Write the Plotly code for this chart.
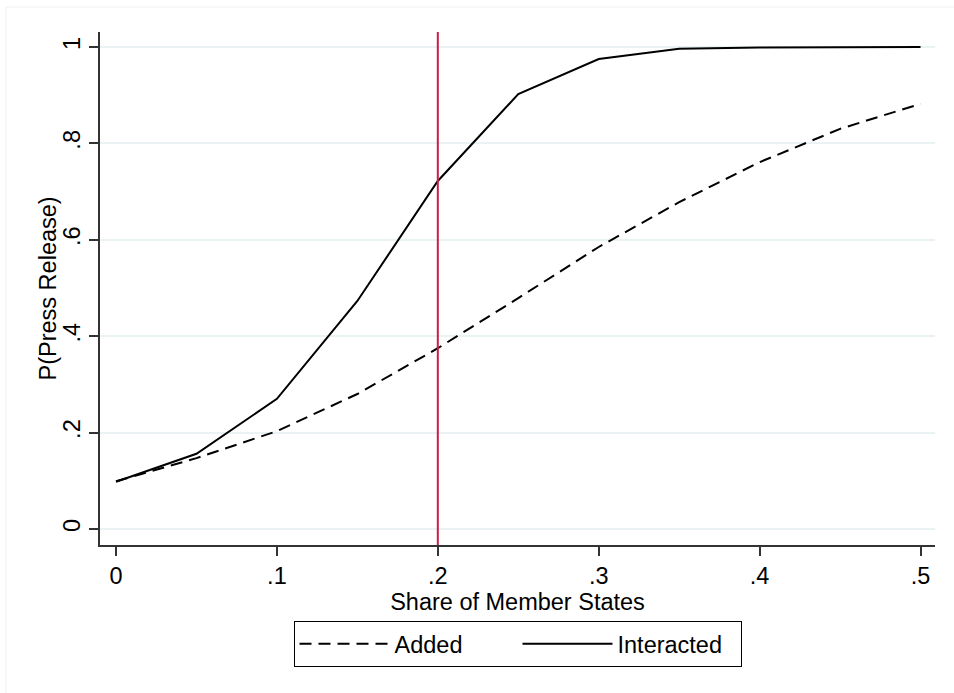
import plotly.graph_objects as go

share = [0, 0.05, 0.10, 0.15, 0.20, 0.25, 0.30, 0.35, 0.40, 0.45, 0.50]
added = [0.099, 0.147, 0.203, 0.280, 0.375, 0.479, 0.585, 0.678, 0.761, 0.830, 0.882]
interacted = [0.098, 0.156, 0.270, 0.473, 0.722, 0.902, 0.975, 0.996, 0.999, 1.0, 1.0]
cutoff = 0.2
x_ticks = [0, 0.1, 0.2, 0.3, 0.4, 0.5]
x_labels = ["0", ".1", ".2", ".3", ".4", ".5"]
y_ticks = [0, 0.2, 0.4, 0.6, 0.8, 1.0]
y_labels = ["0", ".2", ".4", ".6", ".8", "1"]

FONT = "Liberation Sans, Arial, sans-serif"
FS = 23.5

fig = go.Figure()
fig.add_trace(go.Scatter(x=share, y=added, mode="lines", name="Added",
                         line=dict(color="black", width=2, dash="12px,7px")))
fig.add_trace(go.Scatter(x=share, y=interacted, mode="lines", name="Interacted",
                         line=dict(color="black", width=2)))

fig.add_shape(type="line", x0=cutoff, x1=cutoff, xref="x", yref="paper", y0=0, y1=1,
              line=dict(color="#c81e4a", width=2))
fig.add_shape(type="rect", xref="paper", yref="paper", x0=-0.1126, x1=1.3, y0=-0.6, y1=1.0487,
              line=dict(color="#f0f0f0", width=1), layer="below")

fig.add_annotation(text="P(Press Release)", xref="paper", yref="paper",
                   x=-0.0623, y=0.5, xanchor="center", yanchor="middle",
                   textangle=-90, showarrow=False, font=dict(size=FS))

fig.update_layout(
    width=954, height=693,
    margin=dict(l=100, r=19, t=32, b=148),
    paper_bgcolor="white", plot_bgcolor="white",
    font=dict(family=FONT, size=FS, color="black"),
    showlegend=True,
    legend=dict(orientation="h", x=0.5, xanchor="center", y=-0.148, yanchor="top",
                bordercolor="black", borderwidth=1, font=dict(size=FS),
                itemwidth=90, entrywidth=118),
    xaxis=dict(range=[-0.00995, 0.509], tickvals=x_ticks, ticktext=x_labels,
               showgrid=False, zeroline=False, showline=True, linecolor="#333333",
               linewidth=2, ticks="outside", ticklen=9, tickwidth=2, tickcolor="#333333",
               title=dict(text="Share of Member States", standoff=0, font=dict(size=FS)),
               tickfont=dict(size=FS)),
    yaxis=dict(range=[-0.0332, 1.031], tickvals=y_ticks, ticktext=y_labels,
               showgrid=True, gridcolor="#eaf2f3", gridwidth=2, zeroline=False,
               showline=True, linecolor="#333333", linewidth=2, ticks="outside",
               ticklen=9, tickwidth=2, tickcolor="#333333", tickangle=-90,
               tickfont=dict(size=FS)),
)

fig.write_html("out.html")
